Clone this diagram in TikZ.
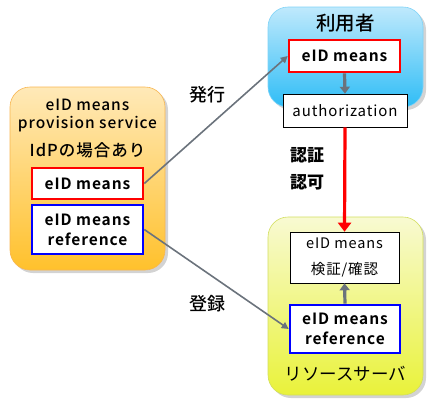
\documentclass[tikz,border=0pt]{standalone}
\usepackage{fontspec}
\setmainfont{Noto Sans CJK JP}
\newfontfamily\latb[LetterSpace=6]{Noto Sans CJK JP Bold}
\newfontfamily\latm[LetterSpace=6]{Noto Sans CJK JP Medium}
\newfontfamily\jpm{Noto Sans CJK JP Medium}
\newfontfamily\latr[LetterSpace=6]{Noto Sans CJK JP}
\usetikzlibrary{arrows.meta,shadows}
\definecolor{lineg}{HTML}{6B737C}
\definecolor{orT}{HTML}{FFE9B8}
\definecolor{orB}{HTML}{FFC12C}
\definecolor{orL}{HTML}{F8B650}
\definecolor{blT}{HTML}{BFE9FC}
\definecolor{blB}{HTML}{2FBDF6}
\definecolor{blL}{HTML}{7FD3F7}
\definecolor{yeT}{HTML}{F8FAD2}
\definecolor{yeB}{HTML}{E9F23A}
\definecolor{yeL}{HTML}{D2DE5E}
\tikzset{
  outerbox/.style={rectangle, rounded corners=20pt, line width=0.6pt, inner sep=0pt,
    drop shadow={shadow xshift=3pt, shadow yshift=-3pt, opacity=0.35}},
  redbox/.style={rectangle, draw=red, line width=2.6pt, fill=white, inner sep=0pt, align=center},
  bluebox/.style={rectangle, draw=blue, line width=2.6pt, fill=white, inner sep=0pt, align=center},
  plainbox/.style={rectangle, draw=black, line width=0.6pt, fill=white, inner sep=0pt, align=center},
  boldtxt/.style={font=\fontsize{15.5}{20}\selectfont\latb},
  medtxt/.style={font=\fontsize{15.5}{20}\selectfont\latm},
  regtxt/.style={font=\fontsize{15}{22}\selectfont\latr},
  jpmed/.style={font=\fontsize{18}{20}\selectfont\jpm},
  jpbold/.style={font=\fontsize{17}{20}\selectfont\bfseries},
  grayarrow/.style={draw=lineg, line width=1.6pt, -{Triangle[length=7pt,width=7pt]}},
  thickgray/.style={draw=lineg, line width=3.2pt, -{Triangle[length=7pt,width=10pt]}},
  redarrow/.style={draw=red, line width=3.2pt, -{Triangle[length=9pt,width=13pt]}}
}
\begin{document}
\begin{tikzpicture}[x=1pt,y=-1pt]
\useasboundingbox (0,0) rectangle (430,410);
% outer boxes
\node[outerbox, draw=orL, top color=orT, bottom color=orB, minimum width=155pt, minimum height=183pt] (prov) at (87.5,178.5) {};
\node[outerbox, draw=blL, top color=blT, bottom color=blB, minimum width=155pt, minimum height=100pt] (user) at (345.5,57) {};
\node[outerbox, draw=yeL, top color=yeT, bottom color=yeB, minimum width=155pt, minimum height=178pt] (rs) at (345.5,306) {};
% titles
\node[medtxt] (pt1) at (87.5,105) {eID means};
\node[medtxt] (pt2) at (87.5,124) {provision service};
\node[medtxt, font=\fontsize{16.5}{20}\selectfont\latm] (pt3) at (87.5,150) {IdPの場合あり};
\node[jpmed, font=\fontsize{19.5}{20}\selectfont\jpm] (ut) at (345.5,23) {利用者};
\node[jpmed, font=\fontsize{17.5}{20}\selectfont] (rst) at (345.5,374) {リソースサーバ};
% inner boxes
\node[redbox, boldtxt, minimum width=111pt, minimum height=31pt] (red1) at (87.5,183.5) {eID means};
\node[bluebox, boldtxt, minimum width=111pt, minimum height=49pt] (blue1) at (87.5,229.5) {eID means\\reference};
\node[redbox, boldtxt, minimum width=111pt, minimum height=32pt] (red2) at (344.5,56) {eID means};
\node[plainbox, regtxt, minimum width=124pt, minimum height=33pt] (auth) at (345,110.5) {authorization};
\node[plainbox, regtxt, font=\fontsize{14.5}{26}\selectfont\latr, minimum width=109pt, minimum height=51pt] (check) at (344.5,257.5) {eID means\\検証/確認};
\node[bluebox, boldtxt, minimum width=110pt, minimum height=48pt] (blue2) at (345,329) {eID means\\reference};
% connectors
\draw[grayarrow] (red1.east) -- (red2.west);
\draw[grayarrow] (blue1.east) -- (blue2.west);
\draw[thickgray] (red2.south) -- (auth.north);
\draw[thickgray] (blue2.north) -- (check.south);
\draw[redarrow] (auth.south) -- (check.north);
% labels
\node[jpmed] (l1) at (207,95) {発行};
\node[jpmed] (l2) at (207,304) {登録};
\node[jpbold] (l3) at (307,155) {認証};
\node[jpbold] (l4) at (307,182) {認可};
\end{tikzpicture}
\end{document}
